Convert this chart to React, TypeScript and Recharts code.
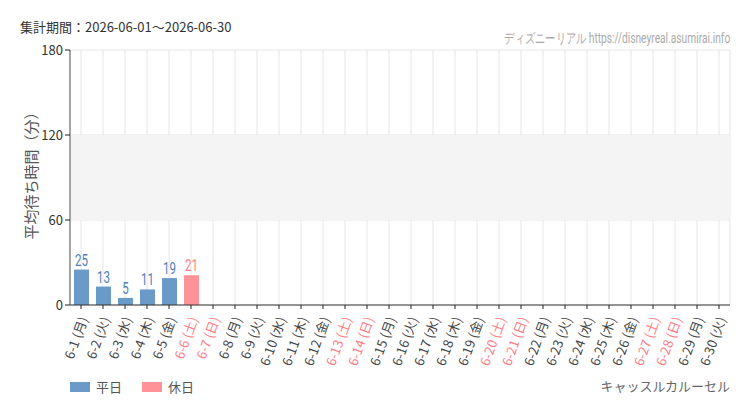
import React from "react";
import {
  BarChart,
  Bar,
  Cell,
  XAxis,
  YAxis,
  CartesianGrid,
  ReferenceArea,
  LabelList,
} from "recharts";

// June 2026, one entry per day
const days = [
  "6-1", "6-2", "6-3", "6-4", "6-5", "6-6", "6-7", "6-8", "6-9", "6-10",
  "6-11", "6-12", "6-13", "6-14", "6-15", "6-16", "6-17", "6-18", "6-19", "6-20",
  "6-21", "6-22", "6-23", "6-24", "6-25", "6-26", "6-27", "6-28", "6-29", "6-30",
];
const weekdays = ["月", "火", "水", "木", "金", "土", "日"];
const waitMinutes: (number | null)[] = [25, 13, 5, 11, 19, 21];
const holidays = ["6-6", "6-7", "6-13", "6-14", "6-20", "6-21", "6-27", "6-28"];
const yTicks = [0, 60, 120, 180];

const BLUE = "#6a9ac8";
const PINK = "#ff9198";
const BLUE_TEXT = "#4f82b8";
const PINK_TEXT = "#ff7b84";
const JP = "'Noto Sans CJK JP', sans-serif";

const data = days.map((d, i) => ({
  day: d,
  label: `${d} (${weekdays[i % 7]})`,
  value: waitMinutes[i] ?? null,
  holiday: holidays.includes(d),
}));

const XTick = (props: any) => {
  const { x, y, payload } = props;
  const row = data[payload.index];
  return (
    <g transform={`translate(${x + 2},${y + 6})`}>
      <text
        transform="rotate(-70)"
        textAnchor="end"
        dominantBaseline="central"
        fontSize={13}
        fontFamily={JP}
        fill={row && row.holiday ? PINK_TEXT : "#444"}
      >
        {row ? row.label : payload.value}
      </text>
    </g>
  );
};

// condensed digits above each bar
const BarLabel = (props: any) => {
  const { x, y, width, value, index } = props;
  if (value == null) return null;
  const row = data[index];
  return (
    <g transform={`translate(${x + width / 2},${y - 4}) scale(0.72,1)`}>
      <text
        textAnchor="middle"
        fontSize={16}
        fontFamily="Roboto, sans-serif"
        fill={row.holiday ? PINK_TEXT : BLUE_TEXT}
      >
        {value}
      </text>
    </g>
  );
};

const YLabel = () => (
  <text
    x={30}
    y={172}
    transform="rotate(-90, 30, 172)"
    textAnchor="middle"
    dominantBaseline="central"
    fontSize={15}
    fontFamily={JP}
    fill="#555"
  >
    平均待ち時間（分）
  </text>
);

export default function App() {
  return (
    <div
      style={{
        position: "absolute",
        left: 0,
        top: 0,
        width: 750,
        height: 410,
        background: "#fff",
        fontFamily: JP,
      }}
    >
      <div
        style={{ position: "absolute", left: 20, top: 17, fontSize: 13, color: "#333" }}
      >
        集計期間：2026-06-01～2026-06-30
      </div>
      <div
        style={{
          position: "absolute",
          right: 20,
          top: 30,
          fontSize: 14,
          color: "#aaa",
          fontFamily: "Roboto, sans-serif",
          whiteSpace: "nowrap",
          transform: "scaleX(0.73)",
          transformOrigin: "right center",
        }}
      >
        ディズニーリアル https://disneyreal.asumirai.info
      </div>
      <BarChart
        width={750}
        height={410}
        data={data}
        margin={{ top: 50, right: 20, bottom: 0, left: 0 }}
      >
        <ReferenceArea y1={60} y2={120} fill="#f4f4f4" fillOpacity={1} stroke="none" />
        <CartesianGrid stroke="#e6e6e6" strokeWidth={1} />
        <XAxis
          dataKey="day"
          interval={0}
          height={105}
          tick={<XTick />}
          tickLine={{ stroke: "#222" }}
          tickSize={4}
          axisLine={{ stroke: "#333" }}
        />
        <YAxis
          width={70}
          domain={[0, 180]}
          ticks={yTicks}
          tick={{ fill: "#333", fontSize: 13 }}
          tickLine={{ stroke: "#222" }}
          tickSize={5}
          axisLine={{ stroke: "#555" }}
          label={<YLabel />}
        />
        <Bar dataKey="value" barSize={15} isAnimationActive={false}>
          {data.map((row) => (
            <Cell key={row.day} fill={row.holiday ? PINK : BLUE} />
          ))}
          <LabelList dataKey="value" content={<BarLabel />} />
        </Bar>
      </BarChart>
      <div
        style={{
          position: "absolute",
          left: 70,
          top: 377,
          display: "flex",
          alignItems: "center",
          fontSize: 13,
          color: "#555",
        }}
      >
        <span style={{ width: 20, height: 10, background: BLUE, marginRight: 6 }} />
        <span style={{ marginRight: 20 }}>平日</span>
        <span style={{ width: 20, height: 10, background: PINK, marginRight: 6 }} />
        <span>休日</span>
      </div>
      <div
        style={{ position: "absolute", right: 20, top: 376, fontSize: 13, color: "#666" }}
      >
        キャッスルカルーセル
      </div>
    </div>
  );
}
